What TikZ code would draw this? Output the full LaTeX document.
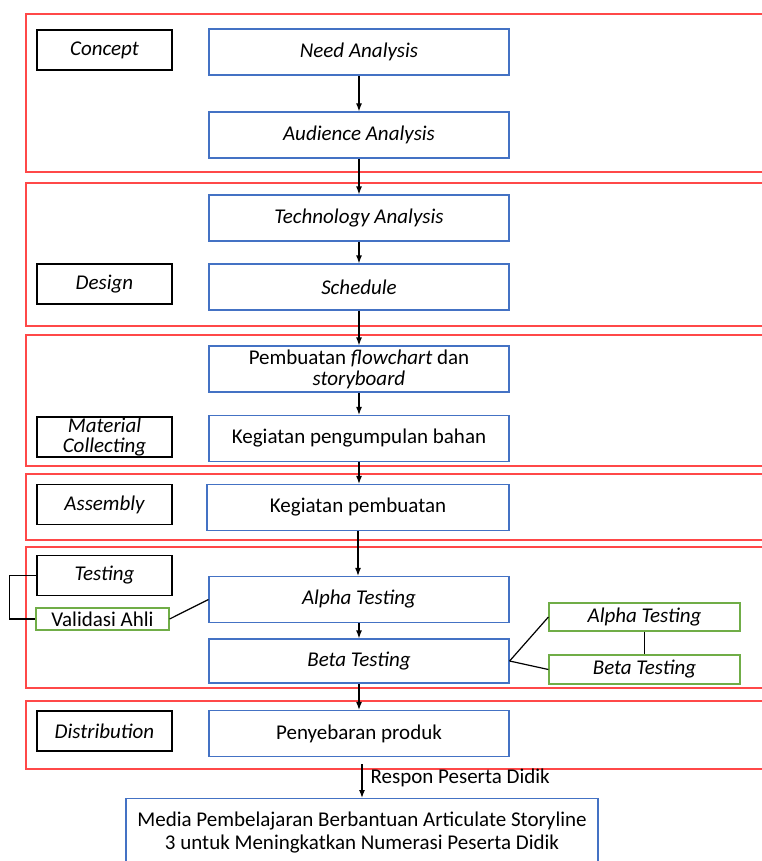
\documentclass[tikz,border=0pt]{standalone}
\usepackage{fontspec}
\setmainfont{Carlito}
\usetikzlibrary{arrows.meta}
\definecolor{frameRed}{RGB}{255,72,72}
\definecolor{boxBlue}{RGB}{68,114,196}
\definecolor{boxGreen}{RGB}{112,173,71}
\newcommand{\basefont}{\fontsize{21}{20}\selectfont}
\begin{document}
\begin{tikzpicture}[x=1pt,y=-1pt,line width=1.2pt,
		stage/.style={draw=black, minimum width=135pt, minimum height=40pt, inner sep=0pt, align=center, font=\basefont\itshape},
		task/.style={draw=boxBlue, minimum width=300pt, minimum height=46pt, inner sep=0pt, align=center, font=\basefont},
		note/.style={draw=boxGreen, minimum width=191pt, minimum height=28pt, inner sep=0pt, font=\basefont\itshape},
		phase/.style={draw=frameRed},
		flow/.style={-{Latex[length=8pt,width=6pt]}}]
	\useasboundingbox (0,0) rectangle (762,861);
	\clip (0,0) rectangle (762,861);
	% phase frames
	\foreach \top/\bot in {14/172, 183/326, 335/466, 474/540, 547/688, 701/769}
	\draw [phase] (26,\top) rectangle (800,\bot);
	
	% stage names
	\node [stage] (concept) at (104.5, 50) {Concept};
	\node [stage] (design) at (104.5, 284) {Design};
	\node [stage] (material) at (104.5, 437) {Material\\Collecting};
	\node [stage] (assembly) at (104.5, 504.5) {Assembly};
	\node [stage] (testing) at (104.5, 575.5) {Testing};
	\node [stage] (distribution) at (104.5, 731) {Distribution};
	\node [note, font=\basefont, minimum width=133pt, minimum height=22pt] (validasi) at (102.5, 619) {Validasi Ahli};
	
	% main steps
	\node [task, font=\basefont\itshape] (need) at (359, 52) {Need Analysis};
	\node [task, font=\basefont\itshape] (audience) at (359, 135) {Audience Analysis};
	\node [task, font=\basefont\itshape] (technology) at (359, 218) {Technology Analysis};
	\node [task, font=\basefont\itshape] (schedule) at (359, 287) {Schedule};
	\node [task] (flowchart) at (359, 369) {Pembuatan \textit{flowchart} dan\\[1pt]\textit{storyboard}};
	\node [task] (collect) at (359, 438.5) {Kegiatan pengumpulan bahan};
	\node [task, minimum width=302pt] (build) at (358, 507.5) {Kegiatan pembuatan};
	\node [task, font=\basefont\itshape] (alpha) at (359, 599.5) {Alpha Testing};
	\node [task, font=\basefont\itshape, minimum height=44pt] (beta) at (359, 661) {Beta Testing};
	\node [task] (spread) at (359, 733.5) {Penyebaran produk};
	\node [task, anchor=north, minimum width=472pt, minimum height=68pt] (media) at (362, 798)
	{Media Pembelajaran Berbantuan Articulate Storyline\\[3pt]3 untuk Meningkatkan Numerasi Peserta Didik};
	
	% testing notes
	\node [note] (alphanote) at (644.5, 617) {Alpha Testing};
	\node [note, minimum height=29pt] (betanote) at (644.5, 669.5) {Beta Testing};
	
	% flow
	\foreach \a/\b in {need/audience, audience/technology, technology/schedule, schedule/flowchart, flowchart/collect, collect/build, build/alpha, alpha/beta, beta/spread}
	\draw [flow] (\a.south) -- (\a.south |- \b.north);
	\draw [flow, shorten <=7pt] (spread.south -| media.north) -- node [right, font=\basefont, inner sep=8pt] {Respon Peserta Didik} (media.north);
	
	% links
	\draw (testing.west) -- ++(-27,0) |- (validasi.west);
	\draw (validasi.east) -- (alpha.west);
	\draw (beta.east) -- (alphanote.west);
	\draw (beta.east) -- (betanote.west);
	\draw (alphanote.south) -- (betanote.north);
\end{tikzpicture}
\end{document}
